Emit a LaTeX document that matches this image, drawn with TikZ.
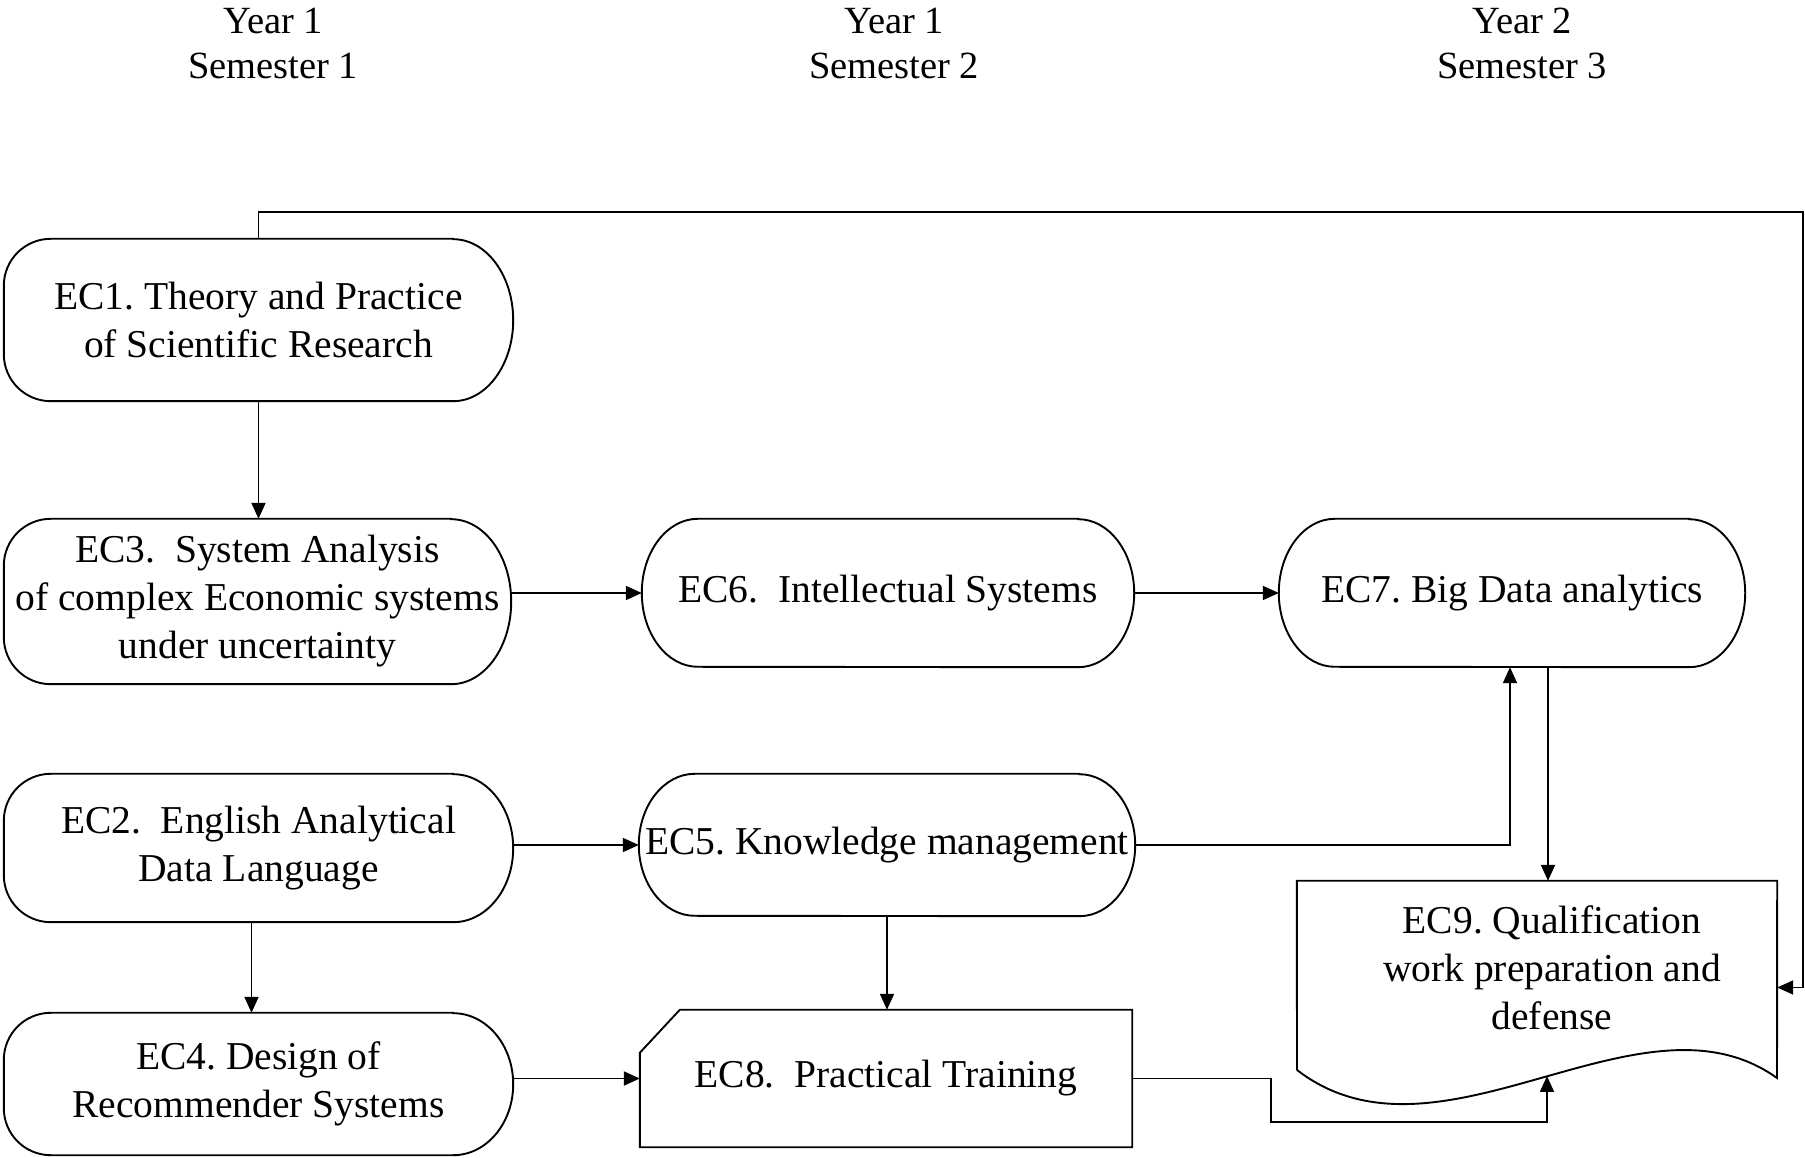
\documentclass[tikz,border=0pt]{standalone}
\usepackage{fontspec}
\setmainfont{Liberation Serif}
\usetikzlibrary{arrows.meta,calc}
% outline of a left-column node: round left corners, elliptic right end
\newcommand\leftpill[2]{\draw[ln] ([xshift=-60pt]#1.north east) -- ([xshift=47pt]#1.north west) arc[start angle=90,end angle=180,radius=47pt] -- ([yshift=47pt]#1.south west) arc[start angle=180,end angle=270,radius=47pt] -- ([xshift=-60pt]#1.south east) arc[start angle=-90,end angle=90,x radius=60pt,y radius=#2pt] -- cycle;}
% outline of a stadium node with elliptic ends
\newcommand\midpill[2]{\draw[ln] ([xshift=-56pt]#1.north east) -- ([xshift=56pt]#1.north west) arc[start angle=90,end angle=270,x radius=56pt,y radius=#2pt] -- ([xshift=-56pt]#1.south east) arc[start angle=-90,end angle=90,x radius=56pt,y radius=#2pt] -- cycle;}
\begin{document}
\frenchspacing
\begin{tikzpicture}[x=1pt,y=1pt,
  every node/.style={font=\fontsize{39.5}{48}\selectfont, align=center, inner sep=0pt},
  hdr/.style={font=\fontsize{38.5}{45}\selectfont},
  ln/.style={line width=1.9pt},
  arr/.style={ln, -{Triangle[length=16pt,width=14pt]}},
]
\useasboundingbox (0,0) rectangle (1805,1157);

% column headers
\node[hdr] (h1) at (273,1113.5) {Year 1\\Semester 1};
\node[hdr] (h2) at (894,1113.5) {Year 1\\Semester 2};
\node[hdr] (h3) at (1522,1113.5) {Year 2\\Semester 3};

% left column
\node[minimum width=509pt, minimum height=162pt] (EC1) at (258.5,837) {EC1. Theory and Practice\\of Scientific Research};
\leftpill{EC1}{81}
\node[minimum width=507pt, minimum height=165pt] (EC3) at (257.5,555.5) {EC3.\ \ System Analysis\\of complex Economic systems\\under uncertainty};
\leftpill{EC3}{82.5}
\node[minimum width=509pt, minimum height=148pt] (EC2) at (258.5,309) {EC2.\ \ English Analytical\\Data Language};
\leftpill{EC2}{74}
\node[minimum width=509pt, minimum height=142pt] (EC4) at (258.5,73) {EC4. Design of\\Recommender Systems};
\leftpill{EC4}{71}

% middle column
\node[minimum width=492pt, minimum height=148pt] (EC6) at (888,564) {EC6.\ \ Intellectual Systems};
\midpill{EC6}{74}
\node[minimum width=496pt, minimum height=142pt] (EC5) at (887,312) {EC5. Knowledge management};
\midpill{EC5}{71}
\node[minimum width=492pt, minimum height=137pt] (EC8) at (886,78.5) {EC8.\ \ Practical Training};
\draw[ln] (EC8.south west) -- ([yshift=-43pt]EC8.north west) -- ([xshift=40pt]EC8.north west) -- (EC8.north east) -- (EC8.south east) -- cycle;

% right column
\node[minimum width=466pt, minimum height=148pt] (EC7) at (1512,564) {EC7. Big Data analytics};
\midpill{EC7}{74}
\node[minimum width=480pt, minimum height=197pt] (EC9) at (1537,177.5) {};
\draw[ln] (1297,87) -- (EC9.north west) -- (EC9.north east) -- (1777,79) .. controls (1640,177) and (1440,-23) .. (1297,87);
\node (EC9t) at (1552,189.5) {EC9. Qualification\\work preparation and\\defense};

% connectors
\coordinate (tr) at (1803,945);
\coordinate (w9) at (1547,81);
\coordinate (j1) at (1271,35);
\draw[arr] (EC1.north) |- (tr) |- ([yshift=-8pt]EC9.east);
\draw[arr] (EC1.south) -- (EC1.south |- EC3.north);
\draw[arr] (EC6.west -| EC3.east) -- (EC6.west);
\draw[arr] (EC6.east) -- (EC7.west);
\draw[arr] (EC5.west -| EC2.east) -- (EC5.west);
\draw[arr] (EC5.east) -| ([xshift=-2pt]EC7.south);
\draw[arr] ([xshift=36pt]EC7.south) -- ([xshift=36pt]EC7.south |- EC9.north);
\draw[arr] ([xshift=-7pt]EC2.south) -- ([xshift=-7pt]EC4.north);
\draw[arr] (EC8.west -| EC4.east) -- (EC8.west);
\draw[arr] (EC5.south) -- (EC5.south |- EC8.north);
\draw[arr] (EC8.east) -| (j1) -| (w9);
\end{tikzpicture}
\end{document}
